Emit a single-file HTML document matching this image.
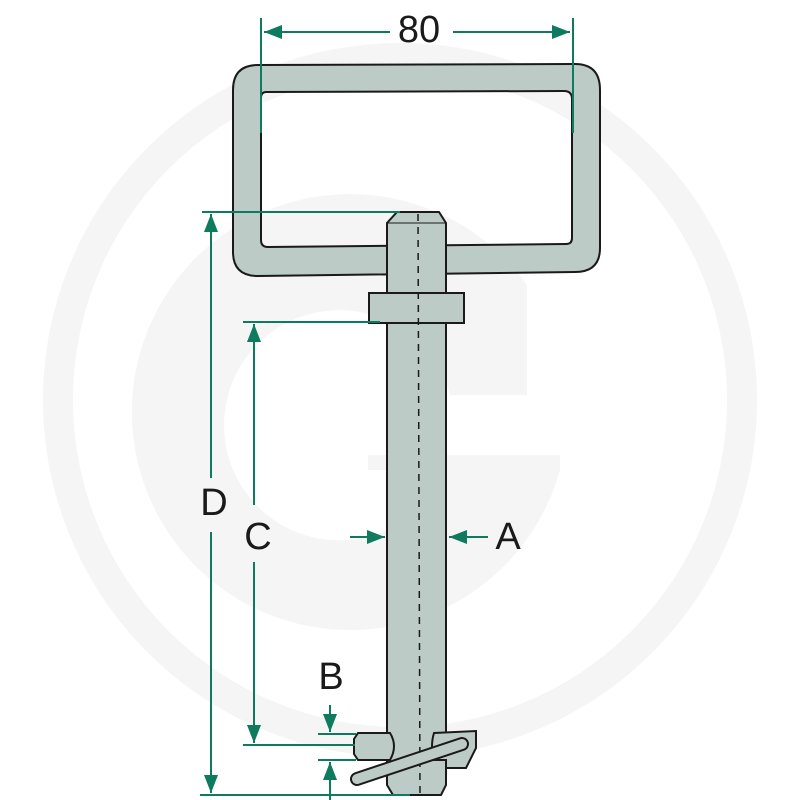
<!DOCTYPE html>
<html><head><style>html,body{margin:0;padding:0;background:#fff}svg{display:block}</style></head>
<body>
<svg width="800" height="800" viewBox="0 0 800 800" xmlns="http://www.w3.org/2000/svg">
<defs>
<marker id="ar" viewBox="0 0 18 14" refX="18" refY="7" markerWidth="18" markerHeight="14" markerUnits="userSpaceOnUse" orient="auto"><path d="M0,0 L18,7 L0,14 z" fill="#0e7a5e"/></marker>
</defs>
<!-- watermark -->
<circle cx="400" cy="400" r="342" fill="none" stroke="#f5f5f5" stroke-width="30"/>
<path d="M560,455 L560,470 A218,218 0 1 1 527,285 L527,395 L450,395 A115,115 0 1 0 445,470 L445,455 L368,455 L368,455 Z" fill="#f5f5f5"/>
<rect x="368" y="455" width="192" height="15" fill="#f5f5f5"/>
<!-- frame -->
<path fill-rule="evenodd" fill="#bccbc6" stroke="#1a1a1a" stroke-width="2" d="M258,65 L575,64 Q600,64 600,90 L600,248 Q600,272 575,272 L258,276 Q233,276 233,252 L233,90 Q233,65 258,65 Z M266,92 Q261,92 261,98 L261,240 Q261,247 268,247 L566,244 Q572,244 572,238 L572,99 Q572,91 564,91 Z"/>
<!-- pin -->
<path d="M397,212 L439,212 L446,223 L446,785 L441,795 L393,795 L387,785 L387,223 Z" fill="#bccbc6" stroke="#1a1a1a" stroke-width="2"/>
<line x1="387" y1="223" x2="446" y2="223" stroke="#1a1a1a" stroke-width="1"/>
<rect x="369" y="293" width="95" height="30" fill="#bccbc6" stroke="#1a1a1a" stroke-width="2"/>
<line x1="418" y1="214" x2="420" y2="795" stroke="#1a1a1a" stroke-width="1.5" stroke-dasharray="7,6"/>
<!-- bottom bolt & clip -->
<path d="M358,733 L390,733 Q398,746 390,760 L358,760 L354,754 L354,739 Z" fill="#bccbc6" stroke="#1a1a1a" stroke-width="2"/>
<path d="M434,733 L476,731 L476,748 L466,768 L446,768 L446,760 L434,760 Q430,746 434,733 Z" fill="#bccbc6" stroke="#1a1a1a" stroke-width="2"/>
<line x1="357" y1="779" x2="462" y2="744" stroke="#1a1a1a" stroke-width="14" stroke-linecap="round"/>
<line x1="357" y1="779" x2="462" y2="744" stroke="#bccbc6" stroke-width="10" stroke-linecap="round"/>
<!-- dimension lines -->
<g stroke="#0e7a5e" stroke-width="2" fill="none">
<line x1="261" y1="18" x2="261" y2="133"/>
<line x1="573" y1="18" x2="573" y2="133"/>
<line x1="390" y1="32" x2="264" y2="32" marker-end="url(#ar)"/>
<line x1="453" y1="32" x2="570" y2="32" marker-end="url(#ar)"/>
<line x1="202" y1="212" x2="400" y2="212"/>
<line x1="243" y1="322" x2="380" y2="322"/>
<line x1="243" y1="745" x2="355" y2="745"/>
<line x1="200" y1="795" x2="410" y2="795"/>
<line x1="318" y1="734" x2="356" y2="734"/>
<line x1="318" y1="760" x2="356" y2="760"/>
<line x1="211" y1="478" x2="211" y2="214" marker-end="url(#ar)"/>
<line x1="211" y1="532" x2="211" y2="793" marker-end="url(#ar)"/>
<line x1="254" y1="505" x2="254" y2="324" marker-end="url(#ar)"/>
<line x1="254" y1="562" x2="254" y2="743" marker-end="url(#ar)"/>
<line x1="330" y1="705" x2="330" y2="732" marker-end="url(#ar)"/>
<line x1="330" y1="800" x2="330" y2="762" marker-end="url(#ar)"/>
<line x1="350" y1="537" x2="385" y2="537" marker-end="url(#ar)"/>
<line x1="488" y1="537" x2="449" y2="537" marker-end="url(#ar)"/>
</g>
<g font-family="Liberation Sans, sans-serif" font-size="38" fill="#1a1a1a" text-anchor="middle">
<text x="419" y="42">80</text>
<text x="214" y="515">D</text>
<text x="258" y="549">C</text>
<text x="508" y="549">A</text>
<text x="331" y="689">B</text>
</g>
</svg>
</body></html>
